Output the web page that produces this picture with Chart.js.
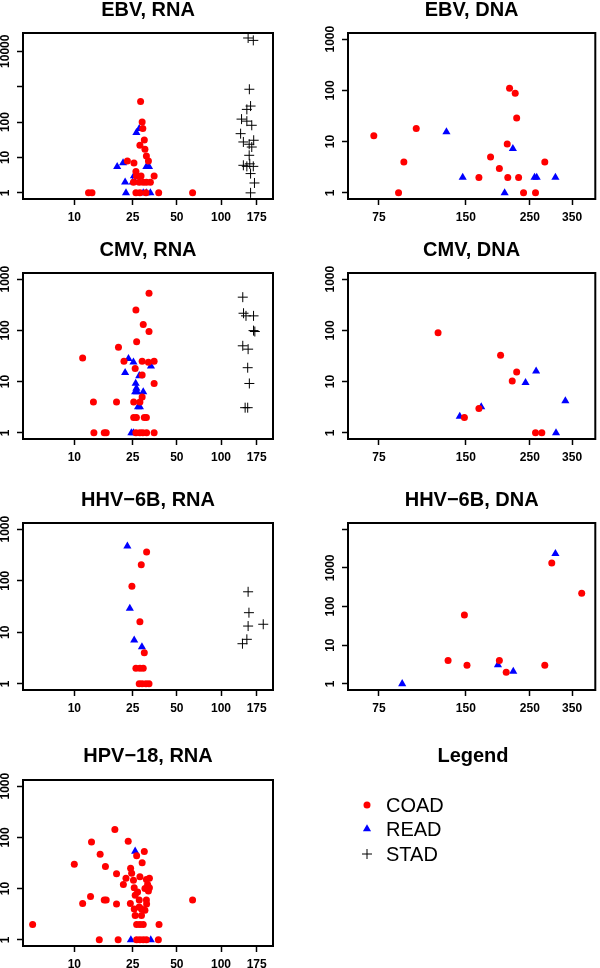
<!DOCTYPE html>
<html>
<head>
<meta charset="utf-8">
<script src="https://cdn.jsdelivr.net/npm/chart.js@4.4.1/dist/chart.umd.min.js"></script>
<style>
  html, body { margin: 0; padding: 0; background: #fff; overflow: hidden; }
  body { width: 600px; height: 968px; position: relative; }
  canvas { position: absolute; }
</style>
</head>
<body>
<canvas id="ebvRna"></canvas>
<canvas id="ebvDna"></canvas>
<canvas id="cmvRna"></canvas>
<canvas id="cmvDna"></canvas>
<canvas id="hhvRna"></canvas>
<canvas id="hhvDna"></canvas>
<canvas id="hpvRna"></canvas>
<canvas id="legend"></canvas>
<script>
// groups
const groups = ["COAD", "READ", "STAD"];

// tick values / labels
const rnaTicksX = [10, 25, 50, 100, 175];
const dnaTicksX = [75, 150, 250, 350];
const yTicks3 = [1, 10, 100, 1000];
const yLabels3 = ["1", "10", "100", "1000"];
const yTicks4 = [1, 10, 100, 1000, 10000];
const ebvRnaLabelsY = ["1", "10", "100", "", "10000"];
const hhvDnaLabelsY = ["1", "10", "100", "1000", ""];

// EBV, RNA
const ebvRnaCoad = [[12.5,1],[13.2,1],[28.3,380],[29,100],[29.3,66],[30,31],[28,22],[30.3,17],[31,11],[32,8],
  [23,8],[25.5,7],[26.3,4],[26.5,3],[28.5,3],[35,3],[25.3,2],[27.7,2],[29.5,2],[31,2],[33,2],
  [26.3,1],[28,1],[30.8,1],[37.6,1],[64,1]];
const ebvRnaRead = [[19.6,5.5],[21.5,7],[22.2,2],[22.5,1],[25.5,3],[25,2],[26.5,50],[27.7,65],
  [31,5.5],[32.3,5.5],[29.5,1],[31,1],[33,1],[26,2]];
const ebvRnaStad = [[153,23700],[166,20300],[156,844],[159,283],[150,228],[138,121],[150,106],[162,81],
  [136,47],[142,27.4],[155.6,23.6],[167,30.6],[162,19.7],[155.6,11.5],[142,6],[150,5.6],[157,6.6],
  [166,5.6],[159,3.5],[169,1.9],[159,1]];

// EBV, DNA
const ebvDnaCoad = [[72,13],[87.7,1],[91.5,4],[101,18],[166.5,2],[182.7,5],[196,3],[208.7,9],[209.6,2],
  [212.6,110],[222.4,88],[225,29],[228.5,2],[237.7,1],[261.5,1],[281.6,4]];
const ebvDnaRead = [[128.5,15.5],[146.3,2],[204.4,1],[218.3,7.3],[259.5,2],[264,2],[306.5,2]];

// CMV, RNA
const cmvRnaCoad = [[11.4,29],[13.5,4],[13.6,1],[16,1],[16.5,1],[19.4,4],[20,47],[21.8,25],[26.3,250],
  [26.6,60],[26,18],[25.4,4],[25.4,2],[26.5,2],[28,1],[31.1,1],[35,1],[29.5,130],[32.3,95],[32.3,530],
  [29,25],[32,24],[35,25],[29,13.5],[35,9.2],[30,2],[29,5],[28,4],[31,2],[26.3,1],[29.3,1]];
const cmvRnaRead = [[23.4,28],[22.2,15],[25.3,24],[27.7,13],[26.2,9.2],[26.5,7.4],[26,6.3],[26.8,6.3],
  [29.5,6.3],[33.3,20],[27.2,3.2],[28,3.2],[24.5,1],[25.3,1]];
const cmvRnaStad = [[140.7,445],[142.4,216],[148,192],[166.6,192],[166.6,99],[170,95],[140.7,50],
  [153,43],[152,18.7],[156,9.2],[146,3.1],[152,3.1]];

// CMV, DNA
const cmvDnaCoad = [[120.2,90],[148.3,2],[166.5,3],[197.9,32.6],[217.2,10.3],[225,15.4],[261.5,1],[275,1]];
const cmvDnaRead = [[142.9,2.1],[169.6,3.2],[241.5,9.5],[262.8,16],[308,1],[331.8,4.2]];

// HHV-6B, RNA
const hhvRnaCoad = [[31.1,360],[28.6,204],[24.7,78],[28,16],[30,4],[26.3,2],[28,2],[29.5,2],
  [27.7,1],[29,1],[30.8,1],[32.3,1]];
const hhvRnaRead = [[23,466],[23.9,29],[25.6,7],[28.9,5.2]];
const hhvRnaStad = [[153,61],[155,24],[153,13.2],[194,14.3],[150,7.3],[140,6]];

// HHV-6B, DNA
const hhvDnaCoad = [[130.2,4],[148.3,60],[151.4,3],[196,4],[207,2],[281.6,3],[297.7,1330],[378,220]];
const hhvDnaRead = [[90.3,1],[193.8,3.1],[219,2.1],[306.5,2335]];

// HPV-18, RNA
const hpvRnaCoad = [[5.2,2],[10,30],[11.4,5.1],[12.9,7],[13.1,81],[15,47],[16.3,27],[14.8,1],[16,6],[16.5,6],
  [18.9,142],[19.4,19.6],[19.4,5],[19.9,1],[21.6,12],[23.3,84],[24.2,25],[22.5,16],[24.6,20],[25.3,14.5],
  [24.1,5.1],[25.6,10.4],[26,7.4],[27,8.6],[26.6,44],[30,53],[29,32],[28,17],[31,15],[31.6,12],[32.5,16],
  [32,9],[32.5,10.4],[30.3,10],[31,6],[31.1,5],[30.3,3.8],[27.7,6],[27.7,4.4],[25.6,4],[26,3],[28.7,3],
  [28.7,4],[26.6,2],[28,2],[29.5,2],[37.8,2],[26.6,1],[28,1],[29.5,1],[31,1],[37.4,1],[64,6]];
const hpvRnaRead = [[26,53.5],[24.3,1],[33.2,1]];

const FONT = "'Liberation Sans', Arial, Helvetica, sans-serif";
Chart.defaults.font.family = FONT;
Chart.defaults.color = "#000";

const styles = [
  { pointStyle: "circle", pointRadius: 3.5, backgroundColor: "#ff0000", borderColor: "#ff0000", borderWidth: 0 },
  { pointStyle: "triangle", pointRadius: 4.7, backgroundColor: "#0000ff", borderColor: "#0000ff", borderWidth: 0 },
  { pointStyle: "cross", pointRadius: 5, backgroundColor: "#000", borderColor: "#000", borderWidth: 1 }
];

const rows = [
  { top: -2, pad: 11, h: 231 },
  { top: 238, pad: 11, h: 231 },
  { top: 488, pad: 11, h: 232 },
  { top: 744, pad: 12, h: 232 }
];

const rnaX = { min: 4.47, max: 226.1, ticks: rnaTicksX };
const dnaX = { min: 58.6, max: 421.3, ticks: dnaTicksX };
const y3 = { min: 0.7586, max: 1318, ticks: yTicks3, labels: yLabels3 };

const panels = [
  { id: "ebvRna", title: "EBV, RNA", col: 0, row: 0, x: rnaX,
    y: { min: 0.67, max: 32800, ticks: yTicks4, labels: ebvRnaLabelsY },
    data: [ebvRnaCoad, ebvRnaRead, ebvRnaStad] },
  { id: "ebvDna", title: "EBV, DNA", col: 1, row: 0, x: dnaX, y: y3, data: [ebvDnaCoad, ebvDnaRead, []] },
  { id: "cmvRna", title: "CMV, RNA", col: 0, row: 1, x: rnaX, y: y3, data: [cmvRnaCoad, cmvRnaRead, cmvRnaStad] },
  { id: "cmvDna", title: "CMV, DNA", col: 1, row: 1, x: dnaX, y: y3, data: [cmvDnaCoad, cmvDnaRead, []] },
  { id: "hhvRna", title: "HHV\u22126B, RNA", col: 0, row: 2, x: rnaX, y: y3, data: [hhvRnaCoad, hhvRnaRead, hhvRnaStad] },
  { id: "hhvDna", title: "HHV\u22126B, DNA", col: 1, row: 2, x: dnaX,
    y: { min: 0.6918, max: 14454, ticks: yTicks4, labels: hhvDnaLabelsY },
    data: [hhvDnaCoad, hhvDnaRead, []] },
  { id: "hpvRna", title: "HPV\u221218, RNA", col: 0, row: 3, x: rnaX, y: y3, data: [hpvRnaCoad, hpvRnaRead, []] }
];

// box around plot + rotated y labels (R style)
const boxPlugin = {
  id: "box",
  afterDraw(chart, args, opts) {
    const { ctx, chartArea: a } = chart;
    const ys = chart.scales.y;
    ctx.save();
    ctx.lineWidth = 2;
    ctx.strokeStyle = "#000";
    ctx.strokeRect(a.left, a.top, a.right - a.left, a.bottom - a.top);
    ctx.font = "bold 12px " + FONT;
    ctx.fillStyle = "#000";
    ctx.textAlign = "center";
    ctx.textBaseline = "middle";
    opts.values.forEach((v, i) => {
      const lab = opts.labels[i];
      if (!lab) return;
      ctx.save();
      ctx.translate(a.left - 17, ys.getPixelForValue(v));
      ctx.rotate(-Math.PI / 2);
      ctx.fillText(lab, 0, 0);
      ctx.restore();
    });
    ctx.restore();
  }
};

panels.forEach(p => {
  const r = rows[p.row];
  const cv = document.getElementById(p.id);
  cv.width = 300;
  cv.height = r.h;
  cv.style.left = (p.col * 300) + "px";
  cv.style.top = r.top + "px";

  new Chart(cv, {
    type: "scatter",
    data: {
      datasets: p.data.map((d, i) => ({
        label: groups[i],
        data: d.map(pt => ({ x: pt[0], y: pt[1] })),
        ...styles[i]
      }))
    },
    options: {
      responsive: false,
      animation: false,
      events: [],
      layout: { padding: { left: 0, right: p.col === 0 ? 27 : 4, top: 0, bottom: 0 } },
      plugins: {
        legend: { display: false },
        tooltip: { enabled: false },
        title: {
          display: true,
          text: p.title,
          fullSize: false,
          font: { size: 20, weight: "bold" },
          padding: { top: 0, bottom: r.pad }
        },
        box: { values: p.y.ticks, labels: p.y.labels }
      },
      scales: {
        x: {
          type: "logarithmic",
          min: p.x.min,
          max: p.x.max,
          afterBuildTicks: s => { s.ticks = p.x.ticks.map(v => ({ value: v })); },
          afterFit: s => { s.height = 30; },
          border: { display: false },
          grid: { drawOnChartArea: false, drawTicks: true, tickLength: 6, tickWidth: 1.5, tickColor: "#000", color: "#000" },
          ticks: {
            autoSkip: false, maxRotation: 0, minRotation: 0, padding: 5,
            font: { size: 12, weight: "bold" },
            callback: v => String(v)
          }
        },
        y: {
          type: "logarithmic",
          min: p.y.min,
          max: p.y.max,
          afterBuildTicks: s => { s.ticks = p.y.ticks.map(v => ({ value: v })); },
          afterFit: s => { s.width = p.col === 0 ? 23 : 48; },
          border: { display: false },
          grid: { drawOnChartArea: false, drawTicks: true, tickLength: 6, tickWidth: 1.5, tickColor: "#000", color: "#000" },
          ticks: { display: false }
        }
      }
    },
    plugins: [boxPlugin]
  });
});

// legend panel
const legendRowsY = [61, 85, 110];
const legendPlugin = {
  id: "legendPanel",
  afterDraw(chart) {
    const ctx = chart.ctx;
    ctx.save();
    chart.data.datasets.forEach((ds, i) => {
      const y = legendRowsY[i];
      ctx.fillStyle = ds.backgroundColor;
      ctx.strokeStyle = ds.borderColor;
      ctx.lineWidth = ds.borderWidth;
      Chart.helpers.drawPoint(ctx, {
        pointStyle: ds.pointStyle, rotation: 0,
        radius: ds.pointRadius,
        borderWidth: ds.borderWidth
      }, 67, y);
      ctx.fillStyle = "#000";
      ctx.font = "20px " + FONT;
      ctx.textAlign = "left";
      ctx.textBaseline = "middle";
      ctx.fillText(ds.label, 86, y + 1);
    });
    ctx.restore();
  }
};

const lc = document.getElementById("legend");
lc.width = 300;
lc.height = 224;
lc.style.left = "300px";
lc.style.top = "744px";
new Chart(lc, {
  type: "scatter",
  data: { datasets: groups.map((g, i) => ({ label: g, data: [], ...styles[i] })) },
  options: {
    responsive: false,
    animation: false,
    events: [],
    layout: { padding: { left: 46, right: 0 } },
    plugins: {
      legend: { display: false },
      tooltip: { enabled: false },
      title: { display: true, text: "Legend", fullSize: false, font: { size: 20, weight: "bold" }, padding: { top: 0, bottom: 0 } }
    },
    scales: { x: { display: false }, y: { display: false } }
  },
  plugins: [legendPlugin]
});
</script>
</body>
</html>
